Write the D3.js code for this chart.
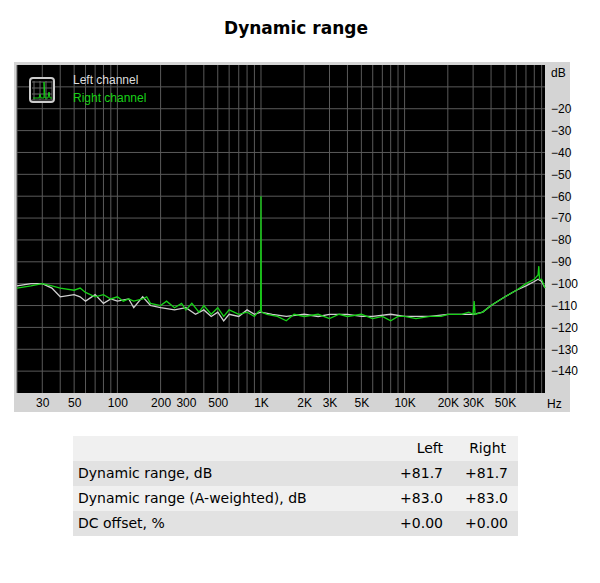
<!DOCTYPE html>
<html><head><meta charset="utf-8">
<script src="https://cdn.jsdelivr.net/npm/d3@7"></script>
<style>body{margin:0;background:#fff}</style>
</head><body><svg id="c" width="600" height="583"></svg>
<script>
const rightF=[20,25,30,35,40,50,55,60,70,80,90,100,110,120,130,150,160,170,200,220,250,280,300,330,370,400,450,500,550,600,700,800,900,950,995,1000,1005,1100,1300,1500,1700,2000,2500,3000,3500,4000,5000,6000,7000,8000,9000,10000,12000,15000,18000,20000,25000,28000,30000,30500,31000,35000,40000,50000,60000,70000,80000,85000,86000,87000,90000,95000];
const rightV=[-102,-101,-100,-101,-102,-103,-102,-104,-106,-105,-107,-106,-108,-107,-108,-107,-106,-109,-110,-108,-111,-109,-112,-109,-113,-110,-114,-111,-115,-112,-114,-113,-115,-113,-112,-60,-113,-114,-115,-117,-114,-115,-114,-116,-114,-115,-114,-116,-115,-117,-115,-115,-116,-115,-115,-114,-114,-113,-114,-108,-114,-113,-110,-106,-103,-100,-98,-96,-92,-98,-98,-102];
const leftF=[20,25,30,35,40,50,55,60,70,80,90,100,120,130,150,170,200,250,300,350,400,450,500,550,600,700,800,900,1000,1200,1500,2000,2500,3000,4000,5000,6000,8000,10000,15000,20000,25000,30000,35000,40000,50000,60000,70000,80000,85000,90000,95000];
const leftV=[-101,-100,-100,-102,-106,-105,-106,-108,-105,-109,-107,-108,-107,-111,-106,-110,-111,-112,-111,-114,-112,-115,-113,-117,-114,-115,-112,-114,-113,-114,-115,-114,-115,-114,-114,-115,-115,-114,-115,-115,-114,-114,-114,-113,-110,-106,-103,-101,-99,-98,-99,-102];
const yTicks=[-20,-30,-40,-50,-60,-70,-80,-90,-100,-110,-120,-130,-140];
const xTicks=[30,50,100,200,300,500,1000,2000,3000,5000,10000,20000,30000,50000];
const xLabels=["30","50","100","200","300","500","1K","2K","3K","5K","10K","20K","30K","50K"];
const rows=[["Dynamic range, dB","+81.7","+81.7"],["Dynamic range (A-weighted), dB","+83.0","+83.0"],["DC offset, %","+0.00","+0.00"]];

const svg=d3.select("#c");
svg.append("text").attr("x",296).attr("y",34).attr("text-anchor","middle").attr("font-family","DejaVu Sans").attr("font-weight","bold").attr("font-size",17).text("Dynamic range");
svg.append("rect").attr("x",14).attr("y",62).attr("width",556).attr("height",350).attr("fill","#d4d4d4");
const L=17,R=545,T=65,B=393;
svg.append("rect").attr("x",L).attr("y",T).attr("width",R-L).attr("height",B-T).attr("fill","#000");
const x=d3.scaleLog().domain([20,95000]).range([L,R]);
const y=d3.scaleLinear().domain([0,-150]).range([T,B]);
const g=svg.append("g");
const vlines=[];
for(let d=10;d<=100000;d*=10)for(let m=1;m<10;m++){const f=d*m;if(f>=20&&f<=95000)vlines.push(f);}
g.selectAll("line.v").data(vlines).join("line").attr("x1",d=>x(d)).attr("x2",d=>x(d)).attr("y1",T).attr("y2",B).attr("stroke","#5a5a5a").attr("stroke-width",1);
g.selectAll("line.h").data(d3.range(-10,-150,-10)).join("line").attr("class","h").attr("x1",L).attr("x2",R).attr("y1",d=>y(d)).attr("y2",d=>y(d)).attr("stroke","#5a5a5a");
const line=d3.line().x(d=>x(d[0])).y(d=>y(d[1]));
svg.append("path").datum(leftF.map((f,i)=>[f,leftV[i]])).attr("d",line).attr("fill","none").attr("stroke","#d0d0d0").attr("stroke-width",1.3);
svg.append("path").datum(rightF.map((f,i)=>[f,rightV[i]])).attr("d",line).attr("fill","none").attr("stroke","#18d018").attr("stroke-width",1.3);
// legend
const lg=svg.append("g");
lg.append("rect").attr("x",30).attr("y",78).attr("width",24).attr("height",24).attr("rx",3).attr("fill","#000").attr("stroke","#ccc").attr("stroke-width",2);
[34,40,46,52].forEach(v=>{lg.append("line").attr("x1",v).attr("x2",v).attr("y1",81).attr("y2",100).attr("stroke","#666");lg.append("line").attr("y1",v+48).attr("y2",v+48).attr("x1",32).attr("x2",52).attr("stroke","#666");});
lg.append("path").attr("d","M33 98 L39 98 L40 94 L41 98 L44 98 L44 82 L45 98 L48 98 L49 92 L50 98 L52 98").attr("stroke","#18d018").attr("fill","none");
lg.append("text").attr("x",73).attr("y",84).attr("fill","#ddd").attr("font-family","Liberation Sans").attr("font-size",12).text("Left channel");
lg.append("text").attr("x",73).attr("y",102).attr("fill","#18d018").attr("font-family","Liberation Sans").attr("font-size",12).text("Right channel");
// axes labels
svg.append("g").attr("transform",`translate(${R},0)`).call(d3.axisRight(y).tickValues(yTicks).tickSize(0).tickPadding(6)).call(s=>{s.select(".domain").remove();s.selectAll("text").attr("font-family","Liberation Sans").attr("font-size",12).attr("fill","#000");});
svg.append("text").attr("x",551).attr("y",77).attr("font-family","Liberation Sans").attr("font-size",12).text("dB");
svg.append("g").attr("transform",`translate(0,${B})`).call(d3.axisBottom(x).tickValues(xTicks).tickFormat((d,i)=>xLabels[i]).tickSize(0).tickPadding(5)).call(s=>{s.select(".domain").remove();s.selectAll("text").attr("font-family","Liberation Sans").attr("font-size",12).attr("fill","#000");});
svg.append("text").attr("x",547).attr("y",408).attr("font-family","Liberation Sans").attr("font-size",12).text("Hz");
// table
const tf="DejaVu Sans",ts=14;
const tg=svg.append("g");
const rowY=[436,461,486,511];
tg.append("rect").attr("x",73).attr("y",436).attr("width",445).attr("height",25).attr("fill","#f0f0f0");
rows.forEach((r,i)=>tg.append("rect").attr("x",73).attr("y",rowY[i+1]).attr("width",445).attr("height",25).attr("fill",i%2?"#f0f0f0":"#e2e2e2"));
tg.append("text").attr("x",443).attr("y",453).attr("text-anchor","end").attr("font-family",tf).attr("font-size",ts).text("Left");
tg.append("text").attr("x",506).attr("y",453).attr("text-anchor","end").attr("font-family",tf).attr("font-size",ts).text("Right");
rows.forEach((r,i)=>{const yy=rowY[i+1]+17;
 tg.append("text").attr("x",78).attr("y",yy).attr("font-family",tf).attr("font-size",ts).text(r[0]);
 tg.append("text").attr("x",443).attr("y",yy).attr("text-anchor","end").attr("font-family",tf).attr("font-size",ts).text(r[1]);
 tg.append("text").attr("x",508).attr("y",yy).attr("text-anchor","end").attr("font-family",tf).attr("font-size",ts).text(r[2]);});
</script></body></html>
